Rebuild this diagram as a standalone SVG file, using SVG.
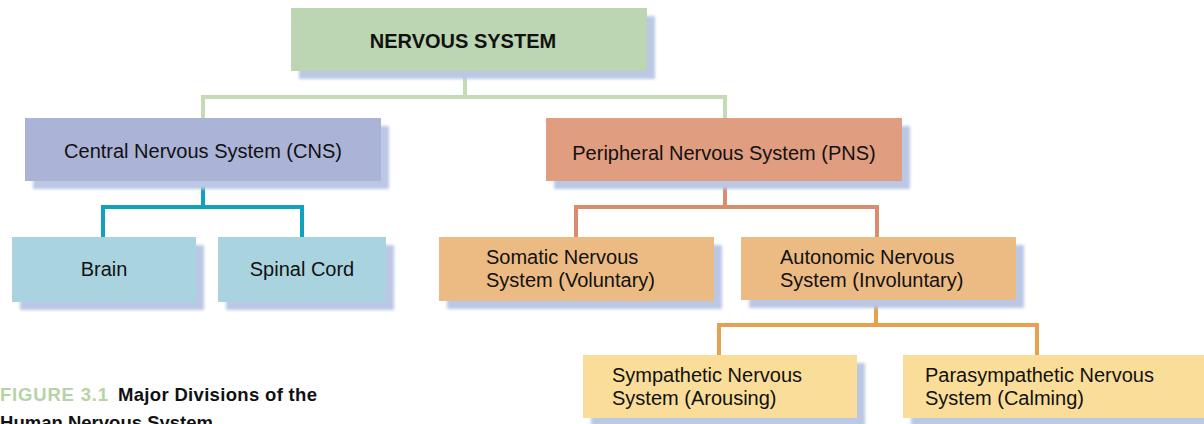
<svg xmlns="http://www.w3.org/2000/svg" width="1204" height="424" viewBox="0 0 1204 424">
  <defs>
    <filter id="blur" x="-10%" y="-20%" width="120%" height="140%">
      <feGaussianBlur stdDeviation="1.5"/>
    </filter>
    <style>
      .shadow { fill: #bac8e5; filter: url(#blur); }
      .t { font-family: "Liberation Sans", Arial, sans-serif; font-size: 20px; fill: #111; }
      .c { text-anchor: middle; }
      .b { font-weight: bold; }
      .cap { font-family: "Liberation Sans", Arial, sans-serif; font-size: 18.5px; font-weight: bold; }
      .conn { fill: none; stroke-width: 4; stroke-linejoin: miter; stroke-linecap: butt; }
    </style>
  </defs>
  <rect width="1204" height="424" fill="#ffffff"/>

  <g id="connectors">
    <path class="conn" stroke="#c4dbb5" d="M465 71 V97 M203 97 H727 M203 95 V118 M725 95 V118"/>
    <path class="conn" stroke="#12a0bf" d="M203 181 V207 M103 207 H302 M103 205 V237 M302 205 V237"/>
    <path class="conn" stroke="#d98c6e" d="M725 181 V207 M576 207 H877 M576 205 V237 M877 205 V237"/>
    <path class="conn" stroke="#e6a050" d="M876 300 V325 M719 325 H1038 M719 323 V355 M1037 323 V355"/>
  </g>

  <g id="nervous-system">
    <rect class="shadow" x="299" y="16" width="356" height="63"/>
    <rect x="291" y="8" width="356" height="63" fill="#bcd5b2"/>
    <text class="t c b" x="463" y="48">NERVOUS SYSTEM</text>
  </g>

  <g id="cns">
    <rect class="shadow" x="33" y="126" width="356" height="63"/>
    <rect x="25" y="118" width="356" height="63" fill="#abb3d6"/>
    <text class="t c" x="203" y="158">Central Nervous System (CNS)</text>
  </g>

  <g id="pns">
    <rect class="shadow" x="554" y="126" width="356" height="63"/>
    <rect x="546" y="118" width="356" height="63" fill="#e09d7f"/>
    <text class="t c" x="724" y="160">Peripheral Nervous System (PNS)</text>
  </g>

  <g id="brain">
    <rect class="shadow" x="20" y="245" width="184" height="65"/>
    <rect x="12" y="237" width="184" height="65" fill="#a9d4df"/>
    <text class="t c" x="104" y="276">Brain</text>
  </g>

  <g id="spinal-cord">
    <rect class="shadow" x="226" y="245" width="168" height="65"/>
    <rect x="218" y="237" width="168" height="65" fill="#a9d4df"/>
    <text class="t c" x="302" y="276">Spinal Cord</text>
  </g>

  <g id="somatic">
    <rect class="shadow" x="447" y="245" width="275" height="64"/>
    <rect x="439" y="237" width="275" height="64" fill="#ecbb83"/>
    <text class="t" x="486" y="264">Somatic Nervous</text>
    <text class="t" x="486" y="287">System (Voluntary)</text>
  </g>

  <g id="autonomic">
    <rect class="shadow" x="749" y="245" width="275" height="63"/>
    <rect x="741" y="237" width="275" height="63" fill="#ecbb83"/>
    <text class="t" x="780" y="264">Autonomic Nervous</text>
    <text class="t" x="780" y="287">System (Involuntary)</text>
  </g>

  <g id="sympathetic">
    <rect class="shadow" x="591" y="363" width="274" height="63"/>
    <rect x="583" y="355" width="274" height="63" fill="#f9dd98"/>
    <text class="t" x="612" y="382">Sympathetic Nervous</text>
    <text class="t" x="612" y="405">System (Arousing)</text>
  </g>

  <g id="parasympathetic">
    <rect class="shadow" x="911" y="363" width="300" height="63"/>
    <rect x="903" y="355" width="301" height="63" fill="#f9dd98"/>
    <text class="t" x="925" y="382">Parasympathetic Nervous</text>
    <text class="t" x="925" y="405">System (Calming)</text>
  </g>

  <g id="caption">
    <text class="cap" x="0" y="401" fill="#b5d3a6" textLength="108">FIGURE 3.1</text>
    <text class="cap" x="118" y="401" fill="#111" textLength="199">Major Divisions of the</text>
    <text class="cap" x="0" y="429" fill="#111" textLength="213">Human Nervous System</text>
  </g>
</svg>
